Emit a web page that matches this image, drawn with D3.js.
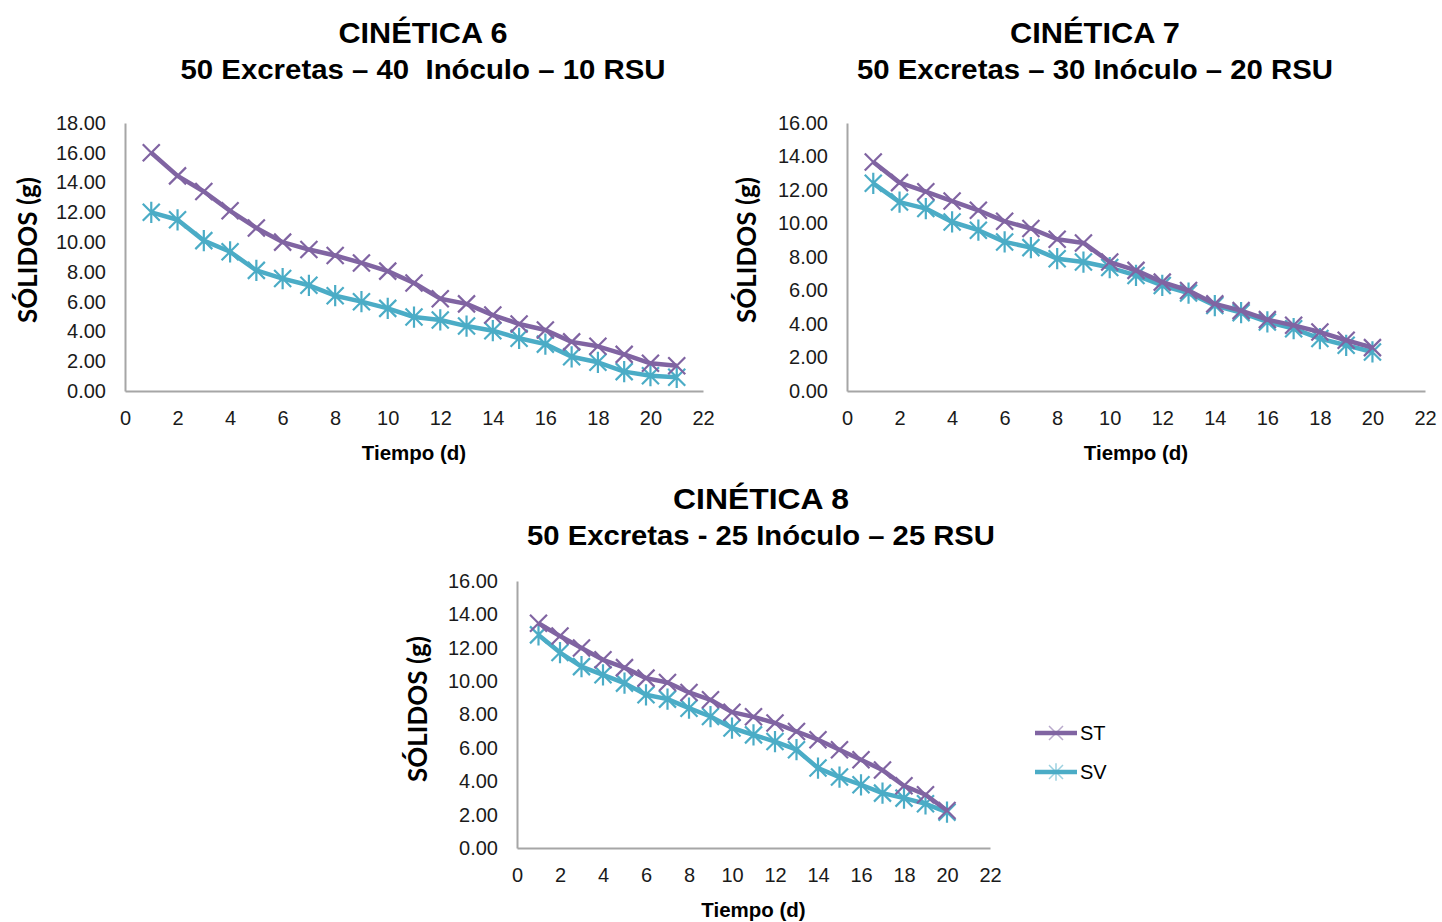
<!DOCTYPE html>
<html>
<head>
<meta charset="utf-8">
<script src="https://cdn.jsdelivr.net/npm/d3@7"></script>
<style>
  html, body { margin: 0; padding: 0; background: #fff; }
  svg { display: block; }
  .tick text { font-family: "Liberation Sans", Arial, sans-serif; font-size: 20px; fill: #1a1a1a; }
  .title { font-family: "Liberation Sans", Arial, sans-serif; font-weight: bold; fill: #000; text-anchor: middle; }
  .xtitle { font-family: "Liberation Sans", Arial, sans-serif; font-weight: bold; font-size: 20.5px; fill: #000; text-anchor: middle; }
  .ytitle { font-family: Lato, "Open Sans", sans-serif; font-weight: bold; font-size: 26px; fill: #000; text-anchor: middle; }
  .legend text { font-family: "Liberation Sans", Arial, sans-serif; font-size: 20px; fill: #000; }
</style>
</head>
<body>
<svg id="chart" width="1442" height="922"></svg>
<script>
// Días de muestreo
const days21 = d3.range(1, 22);
const days20 = d3.range(1, 21);

// Cinética 6: 50 Excretas – 40 Inóculo – 10 RSU
const c6ST = [16.0, 14.45, 13.4, 12.1, 10.95, 10.0, 9.5, 9.1, 8.6, 8.05, 7.25, 6.2, 5.85, 5.1, 4.5, 4.1, 3.3, 3.0, 2.46, 1.86, 1.7];
const c6SV = [12.0, 11.5, 10.1, 9.35, 8.1, 7.55, 7.1, 6.4, 6.0, 5.55, 4.97, 4.77, 4.36, 4.05, 3.54, 3.15, 2.3, 1.93, 1.3, 1.03, 0.92];

// Cinética 7: 50 Excretas – 30 Inóculo – 20 RSU
const c7ST = [13.67, 12.44, 11.9, 11.34, 10.79, 10.13, 9.7, 9.06, 8.84, 7.7, 7.2, 6.5, 6.0, 5.2, 4.8, 4.26, 3.92, 3.52, 3.03, 2.59];
const c7SV = [12.4, 11.28, 10.89, 10.09, 9.6, 8.9, 8.56, 7.9, 7.7, 7.37, 6.9, 6.3, 5.85, 5.1, 4.68, 4.12, 3.72, 3.13, 2.73, 2.33];

// Cinética 8: 50 Excretas - 25 Inóculo – 25 RSU
const c8ST = [13.47, 12.7, 11.98, 11.28, 10.81, 10.18, 9.92, 9.32, 8.88, 8.14, 7.86, 7.49, 6.98, 6.49, 5.89, 5.29, 4.67, 3.73, 3.19, 2.25];
const c8SV = [12.77, 11.71, 10.87, 10.38, 9.88, 9.18, 8.92, 8.38, 7.88, 7.19, 6.78, 6.38, 5.89, 4.79, 4.25, 3.79, 3.29, 2.99, 2.65, 2.15];

// Ticks
const xTicks = [0, 2, 4, 6, 8, 10, 12, 14, 16, 18, 20, 22];
const yTicks18 = [0, 2, 4, 6, 8, 10, 12, 14, 16, 18];
const yTicks16 = [0, 2, 4, 6, 8, 10, 12, 14, 16];

const seriesNames = ["ST", "SV"];
const colors = { ST: "#8064A2", SV: "#4BACC6" };

const svg = d3.select("#chart");

function marker(g, type, color, size, width, opacity) {
  const s = size;
  let d = `M${-s},${-s}L${s},${s}M${-s},${s}L${s},${-s}`;
  if (type === "SV") d += `M0,${-s * 1.25}L0,${s * 1.25}`;
  g.append("path")
    .attr("fill", "none")
    .attr("stroke", color)
    .attr("stroke-width", width)
    .attr("stroke-opacity", opacity == null ? 1 : opacity)
    .attr("d", d);
}

function drawChart(cfg) {
  const g = svg.append("g");
  const x = d3.scaleLinear().domain([0, 22]).range([cfg.x0, cfg.x1]);
  const y = d3.scaleLinear().domain([0, cfg.yMax]).range([cfg.y0, cfg.y1]);

  // Títulos
  g.append("text").attr("class", "title").attr("x", cfg.cx).attr("y", cfg.ty)
    .style("font-size", "30px").attr("textLength", cfg.tw).attr("lengthAdjust", "spacingAndGlyphs")
    .text(cfg.title);
  g.append("text").attr("class", "title").attr("x", cfg.cx).attr("y", cfg.ty + 36)
    .style("font-size", "28px").style("white-space", "pre")
    .attr("textLength", cfg.sw).attr("lengthAdjust", "spacingAndGlyphs")
    .text(cfg.subtitle);

  // Ejes
  const ax = g.append("g").attr("transform", `translate(0,${cfg.y0})`)
    .call(d3.axisBottom(x).tickValues(xTicks).tickSize(0).tickPadding(20).tickFormat(d3.format("d")));
  const ay = g.append("g").attr("transform", `translate(${cfg.x0},0)`)
    .call(d3.axisLeft(y).tickValues(cfg.yTicks).tickSize(0).tickPadding(19).tickFormat(d3.format(".2f")));
  [ax, ay].forEach(a => a.select(".domain").attr("stroke", "#a6a6a6").attr("stroke-width", 2));

  g.append("text").attr("class", "xtitle")
    .attr("x", (cfg.x0 + cfg.x1) / 2).attr("y", cfg.y0 + 69).text("Tiempo (d)");
  g.append("text").attr("class", "ytitle")
    .attr("transform", `translate(${cfg.ytx},${cfg.yty}) rotate(-90)`)
    .attr("dy", "0.35em").text("SÓLIDOS (g)");

  const line = d3.line().x(d => x(d[0])).y(d => y(d[1]));

  // SV primero, ST encima
  [["SV", cfg.sv], ["ST", cfg.st]].forEach(([name, vals]) => {
    const pts = cfg.days.map((d, i) => [d, vals[i]]);
    g.append("path").datum(pts)
      .attr("fill", "none").attr("stroke", colors[name])
      .attr("stroke-width", 4.5).attr("stroke-linejoin", "round")
      .attr("d", line);
    pts.forEach(p => {
      const m = g.append("g").attr("transform", `translate(${x(p[0])},${y(p[1])})`);
      marker(m, name, colors[name], 8.5, 2.2);
    });
  });
}

drawChart({
  title: "CINÉTICA 6", subtitle: "50 Excretas – 40  Inóculo – 10 RSU",
  cx: 423, ty: 43, tw: 169, sw: 485,
  x0: 125, x1: 703, y0: 391, y1: 123, yMax: 18, yTicks: yTicks18,
  ytx: 28, yty: 250,
  days: days21, st: c6ST, sv: c6SV
});

drawChart({
  title: "CINÉTICA 7", subtitle: "50 Excretas – 30 Inóculo – 20 RSU",
  cx: 1095, ty: 43, tw: 170, sw: 476,
  x0: 847, x1: 1425, y0: 391, y1: 123, yMax: 16, yTicks: yTicks16,
  ytx: 747, yty: 250,
  days: days20, st: c7ST, sv: c7SV
});

drawChart({
  title: "CINÉTICA 8", subtitle: "50 Excretas - 25 Inóculo – 25 RSU",
  cx: 761, ty: 509, tw: 176, sw: 468,
  x0: 517, x1: 990, y0: 848, y1: 581, yMax: 16, yTicks: yTicks16,
  ytx: 418, yty: 709,
  days: days20, st: c8ST, sv: c8SV
});

// Leyenda
const legend = svg.append("g").attr("class", "legend");
seriesNames.forEach((name, i) => {
  const ly = 733 + i * 39;
  legend.append("line").attr("x1", 1035).attr("x2", 1077).attr("y1", ly).attr("y2", ly)
    .attr("stroke", colors[name]).attr("stroke-width", 4.5);
  const m = legend.append("g").attr("transform", `translate(1056,${ly})`);
  marker(m, name, colors[name], 7, 1.5, 0.55);
  legend.append("text").attr("x", 1080).attr("y", ly).attr("dy", "0.36em").text(name);
});
</script>
</body>
</html>
